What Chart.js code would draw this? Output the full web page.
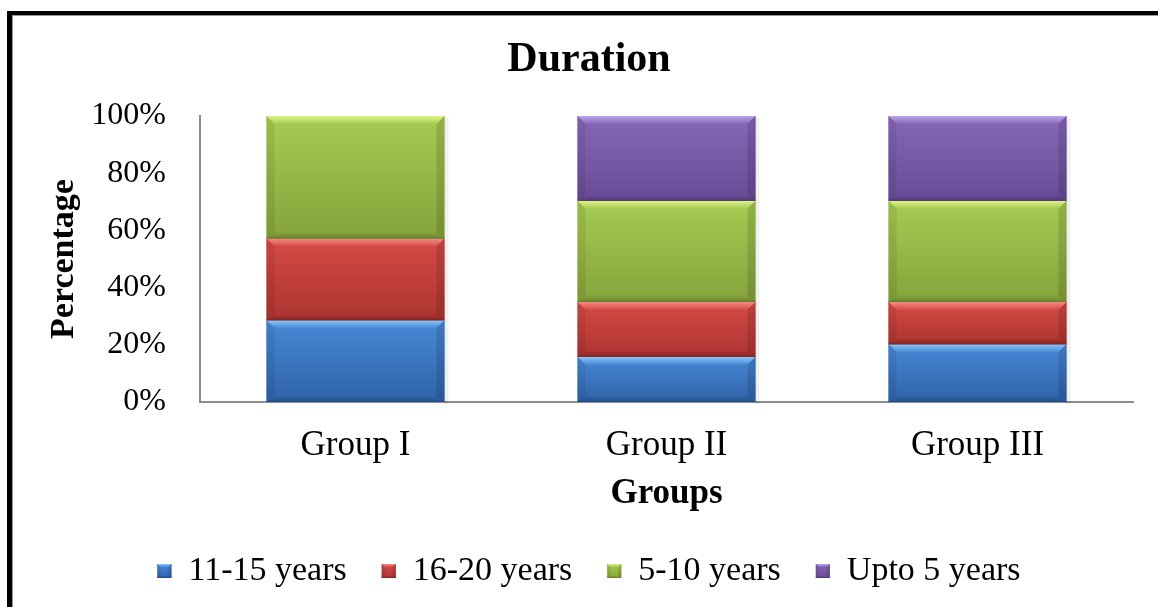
<!DOCTYPE html>
<html>
<head>
<meta charset="utf-8">
<title>Duration</title>
<script src="https://cdn.jsdelivr.net/npm/chart.js@4.4.1/dist/chart.umd.min.js"></script>
<style>
  html, body { margin: 0; padding: 0; background: #ffffff; }
  #wrap { width: 1158px; height: 607px; }
  canvas { display: block; }
</style>
</head>
<body>
<div id="wrap"><canvas id="chart" width="1158" height="607"></canvas></div>
<script>
// ---- data ----
const categories = ['Group I', 'Group II', 'Group III'];
const seriesNames = ['11-15 years', '16-20 years', '5-10 years', 'Upto 5 years'];
const years11to15 = [28.6, 15.8, 20.2];
const years16to20 = [28.6, 19.2, 14.8];
const years5to10  = [42.8, 35.4, 35.4];
const upTo5Years  = [0, 29.6, 29.6];
const yTickValues = [0, 20, 40, 60, 80, 100];
const seriesValues = [years11to15, years16to20, years5to10, upTo5Years];

// ---- styling ----
const SERIF = "'Liberation Serif', 'Times New Roman', Times, serif";
const palette = [
  { base: '#3C79C8', light: '#4888D6', dark: '#2F63A8', hi: '#8CC8FA', lo: '#22508A' },
  { base: '#C8403D', light: '#D64A46', dark: '#AC3431', hi: '#F58C88', lo: '#872623' },
  { base: '#9BBE4A', light: '#A6CB52', dark: '#85A33C', hi: '#DDF588', lo: '#68832B' },
  { base: '#7A5BAA', light: '#8767B8', dark: '#684B95', hi: '#BFA3EC', lo: '#523A7A' }
];

// Outer black frame around the figure
const framePlugin = {
  id: 'frame',
  beforeDraw(chart) {
    const ctx = chart.ctx;
    ctx.save();
    ctx.fillStyle = '#ffffff';
    ctx.fillRect(0, 0, chart.width, chart.height);
    ctx.fillStyle = '#000000';
    ctx.fillRect(7, 11, 5, chart.height - 11);
    ctx.fillRect(7, 11, chart.width - 7, 4);
    ctx.fillStyle = '#9a9a9a';
    ctx.fillRect(12, 15, 1, chart.height - 15);
    ctx.fillRect(12, 15, chart.width - 12, 1);
    ctx.restore();
  }
};

function bevelRect(ctx, left, top, w, h, pal, b) {
  const right = left + w, bottom = top + h;
  // body gradient
  const g = ctx.createLinearGradient(0, top, 0, bottom);
  g.addColorStop(0, pal.light);
  g.addColorStop(1, pal.dark);
  ctx.fillStyle = g;
  ctx.fillRect(left, top, w, h);
  // top bevel
  const gt = ctx.createLinearGradient(0, top, 0, top + b);
  gt.addColorStop(0, pal.hi);
  gt.addColorStop(1, pal.light);
  ctx.fillStyle = gt;
  ctx.beginPath();
  ctx.moveTo(left, top); ctx.lineTo(right, top);
  ctx.lineTo(right - b, top + b); ctx.lineTo(left + b, top + b);
  ctx.closePath(); ctx.fill();
  // bottom bevel
  const gb = ctx.createLinearGradient(0, bottom - b * 0.7, 0, bottom);
  gb.addColorStop(0, pal.dark);
  gb.addColorStop(1, pal.lo);
  ctx.fillStyle = gb;
  ctx.beginPath();
  ctx.moveTo(left, bottom); ctx.lineTo(right, bottom);
  ctx.lineTo(right - b, bottom - b * 0.7); ctx.lineTo(left + b, bottom - b * 0.7);
  ctx.closePath(); ctx.fill();
  // side bevels
  ctx.fillStyle = 'rgba(0,0,0,0.07)';
  ctx.beginPath();
  ctx.moveTo(left, top); ctx.lineTo(left + b, top + b);
  ctx.lineTo(left + b, bottom - b * 0.7); ctx.lineTo(left, bottom);
  ctx.closePath(); ctx.fill();
  ctx.fillStyle = 'rgba(0,0,0,0.12)';
  ctx.beginPath();
  ctx.moveTo(right, top); ctx.lineTo(right - b, top + b);
  ctx.lineTo(right - b, bottom - b * 0.7); ctx.lineTo(right, bottom);
  ctx.closePath(); ctx.fill();
  // thin dark edge at the bottom
  ctx.fillStyle = pal.lo;
  ctx.fillRect(left, bottom - 1, w, 1);
}

// Bevelled, shaded look for each bar segment and legend swatch
const bevelPlugin = {
  id: 'bevel',
  afterDatasetsDraw(chart) {
    const ctx = chart.ctx;
    ctx.save();
    chart.data.datasets.forEach((ds, di) => {
      const meta = chart.getDatasetMeta(di);
      if (meta.hidden) return;
      const pal = palette[di];
      meta.data.forEach(el => {
        const p = el.getProps(['x', 'y', 'base', 'width'], true);
        const left = p.x - p.width / 2;
        const top = Math.min(p.y, p.base);
        const h = Math.abs(p.base - p.y);
        if (h < 1) return;
        // soft shadow on the right side
        ctx.fillStyle = 'rgba(0,0,0,0.06)';
        ctx.fillRect(left + p.width, top + 2, 4, h);
        bevelRect(ctx, left, top, p.width, h, pal, Math.min(8, h / 3));
      });
    });
    ctx.restore();
  },
  afterDraw(chart) {
    const lg = chart.legend;
    if (!lg || !lg.legendHitBoxes) return;
    const ctx = chart.ctx;
    const fs = lg.options.labels.font.size;
    const bw = lg.options.labels.boxWidth, bh = lg.options.labels.boxHeight;
    ctx.save();
    lg.legendHitBoxes.forEach((hb, i) => {
      const top = hb.top + Math.max((fs - bh) / 2, 0);
      bevelRect(ctx, hb.left, top, bw, bh, palette[i], 3);
    });
    ctx.restore();
  }
};

const ctx = document.getElementById('chart').getContext('2d');
new Chart(ctx, {
  type: 'bar',
  data: {
    labels: categories,
    datasets: seriesValues.map((vals, i) => ({
      label: seriesNames[i],
      data: vals,
      backgroundColor: palette[i].base,
      borderWidth: 0,
      barPercentage: 0.572,
      categoryPercentage: 1
    }))
  },
  options: {
    responsive: false,
    animation: false,
    devicePixelRatio: 1,
    layout: { padding: { left: 45, right: 25, top: 0, bottom: 9 } },
    plugins: {
      title: {
        display: true,
        text: 'Duration',
        color: '#000000',
        font: { family: SERIF, size: 42, weight: 'bold' },
        padding: { top: 34.8, bottom: 30.8 }
      },
      legend: {
        position: 'bottom',
        labels: {
          color: '#000000',
          font: { family: SERIF, size: 34 },
          boxWidth: 14,
          boxHeight: 14,
          padding: 35
        }
      },
      tooltip: { enabled: false }
    },
    scales: {
      x: {
        stacked: true,
        grid: { display: false, drawTicks: false },
        border: { display: true, color: '#8c8c8c', width: 2 },
        ticks: { color: '#000000', font: { family: SERIF, size: 35 }, padding: 22.5 },
        title: {
          display: true,
          text: 'Groups',
          color: '#000000',
          font: { family: SERIF, size: 35, weight: 'bold' },
          padding: { top: 0, bottom: 4.5 }
        },
        afterFit(scale) { scale.height = 117; }
      },
      y: {
        stacked: true,
        min: 0,
        max: 100,
        grid: { display: false, drawTicks: false },
        border: { display: true, color: '#8c8c8c', width: 2 },
        ticks: {
          color: '#000000',
          font: { family: SERIF, size: 32 },
          padding: 34,
          callback: v => v + '%'
        },
        afterBuildTicks(scale) { scale.ticks = yTickValues.map(v => ({ value: v })); },
        title: {
          display: true,
          text: 'Percentage',
          color: '#000000',
          font: { family: SERIF, size: 34, weight: 'bold' },
          padding: { top: -1, bottom: 0 }
        },
        afterFit(scale) { scale.width = 155; }
      }
    }
  },
  plugins: [framePlugin, bevelPlugin]
});
</script>
</body>
</html>
